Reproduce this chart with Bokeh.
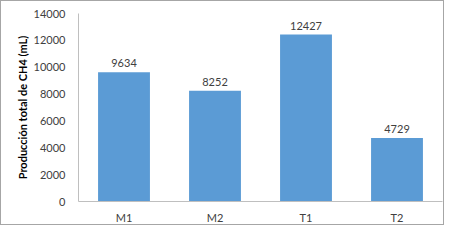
from bokeh.plotting import figure
from bokeh.models import ColumnDataSource, FixedTicker, Range1d
from bokeh.core.properties import value
from bokeh.embed import file_html
from bokeh.resources import INLINE

categories = ["M1", "M2", "T1", "T2"]
values = [9634, 8252, 12427, 4729]
y_ticks = [0, 2000, 4000, 6000, 8000, 10000, 12000, 14000]
y_label = "Producción total de CH4 (mL)"

FONT = "Lato"

src = ColumnDataSource(dict(cat=categories, val=values, lab=[str(v) for v in values]))

p = figure(x_range=categories, y_range=Range1d(0, 14000), width=444, height=225,
           output_backend="svg", toolbar_location=None,
           min_border_left=0, min_border_right=14, min_border_top=12, min_border_bottom=24)
p.styles = {"border": "1px solid #a6a6a6", "padding-left": "11px"}

p.vbar(x="cat", top="val", width=0.57, source=src, fill_color="#5b9bd5", line_color=None)
p.text(x="cat", y="val", text="lab", source=src, y_offset=-5,
       text_align="center", text_baseline="bottom", text_font_size="11px",
       text_font=value(FONT), text_color="#404040")

p.xgrid.visible = False
p.ygrid.visible = False
p.outline_line_color = None

p.yaxis.ticker = FixedTicker(ticks=y_ticks)
p.yaxis.axis_line_color = "#bfbfbf"
p.yaxis.major_tick_line_color = None
p.yaxis.minor_tick_line_color = None
p.yaxis.major_label_text_font = FONT
p.yaxis.major_label_text_font_size = "11px"
p.yaxis.major_label_text_color = "#404040"
p.yaxis.major_label_standoff = 7
p.yaxis.axis_label = y_label
p.yaxis.axis_label_text_font = FONT
p.yaxis.axis_label_text_font_style = "bold"
p.yaxis.axis_label_text_font_size = "11px"
p.yaxis.axis_label_text_color = "#000000"
p.yaxis.axis_label_standoff = 2

p.xaxis.axis_line_color = "#bfbfbf"
p.xaxis.major_tick_line_color = None
p.xaxis.minor_tick_line_color = None
p.xaxis.major_label_text_font = FONT
p.xaxis.major_label_text_font_size = "11px"
p.xaxis.major_label_text_color = "#404040"
p.xaxis.major_label_standoff = 3

open("out.html", "w").write(file_html(p, INLINE))
